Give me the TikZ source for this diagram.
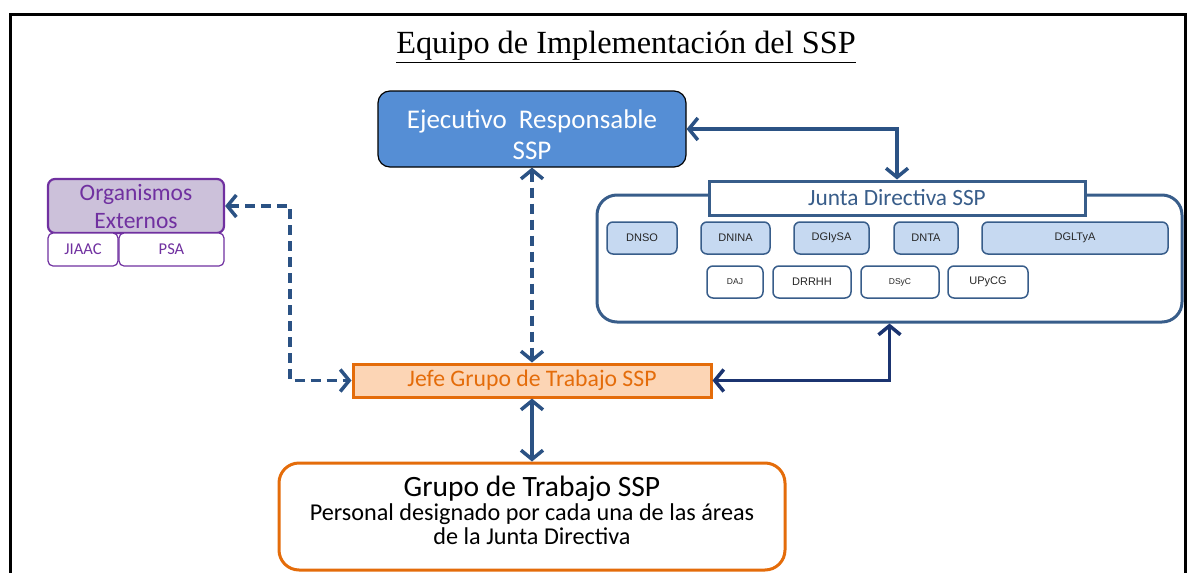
\documentclass[tikz,border=0pt]{standalone}
\usepackage{fontspec}
\setmainfont{Carlito}
\newfontfamily\titlefont{Liberation Serif}
\newfontfamily\areafont{Liberation Sans}
\usetikzlibrary{arrows.meta}
\definecolor{ejblue}{HTML}{558ED5}
\definecolor{orgpurple}{HTML}{7030A0}
\definecolor{orgfill}{HTML}{CCC1DA}
\definecolor{navy}{HTML}{2B5284}
\definecolor{darknavy}{HTML}{1B3470}
\definecolor{dirfill}{HTML}{C6D9F1}
\definecolor{dirline}{HTML}{385D8A}
\definecolor{jefeorange}{HTML}{E46C0A}
\definecolor{jefefill}{HTML}{FCD5B5}

\begin{document}
\begin{tikzpicture}[x=1pt,y=-1pt,
  ejbox/.style={draw=black, line width=1.2pt, fill=ejblue, rounded corners=12pt,
    text=white, align=center, minimum width=308pt, minimum height=76pt,
    font=\fontsize{27}{31}\selectfont},
  orgbox/.style={draw=orgpurple, line width=2.2pt, fill=orgfill, rounded corners=7pt,
    text=orgpurple, align=center, minimum width=176pt, minimum height=54pt,
    font=\fontsize{23.5}{28}\selectfont},
  orgsub/.style={draw=orgpurple, line width=1.2pt, fill=white, rounded corners=5pt,
    text=orgpurple, minimum height=33pt, font=\fontsize{16.5}{18}\selectfont},
  dirbox/.style={draw=dirline, line width=1.5pt, fill=dirfill, rounded corners=6pt,
    minimum height=32pt, text=black!85, font=\areafont\fontsize{11}{13}\selectfont},
  areabox/.style={draw=dirline, line width=1.5pt, fill=white, rounded corners=6pt,
    minimum height=32pt, text=black!85, font=\areafont\fontsize{11}{13}\selectfont},
  conn/.style={draw=navy, line width=3.5pt,
    arrows={Straight Barb[length=9pt,width=22pt]-Straight Barb[length=9pt,width=22pt]}},
  dashconn/.style={conn, dash pattern=on 10pt off 6pt}]

\useasboundingbox (0,0) rectangle (1192,573);

% Frame
\draw[line width=3pt] (10,573) |- (1185,14) -- (1185,573);

% Title
\node (title) at (626,47) {\titlefont\fontsize{32.3}{36}\selectfont\underline{Equipo de Implementación del SSP}};

% Ejecutivo Responsable
\node[ejbox] (ejec) at (532,129) {\rule{0pt}{30pt}Ejecutivo~ Responsable\\SSP};

% Organismos Externos
\node[orgbox] (org) at (136,206) {Organismos\\Externos};
\node[orgsub, minimum width=70pt] (jiaac) at (83,249.5) {JIAAC};
\node[orgsub, minimum width=105pt] (psa) at (171.5,249.5) {PSA};

% Junta Directiva
\node[draw=dirline, line width=3pt, rounded corners=20pt, minimum width=585pt,
  minimum height=127pt] (junta) at (889.5,258.5) {};
\node[draw=dirline, line width=3pt, fill=white, minimum width=376pt, minimum height=34pt,
  text=dirline, font=\fontsize{23.3}{26}\selectfont] (jtitle) at (897,198) {Junta Directiva SSP};

% First row of areas
\node[dirbox, minimum width=70pt] (dnso) at (642,238) {DNSO};
\node[dirbox, minimum width=69pt] (dnina) at (735.5,238) {DNINA};
\node[dirbox, minimum width=75pt] (dgiysa) at (831.5,238) {DGIySA};
\node[dirbox, minimum width=64pt] (dnta) at (926,238) {DNTA};
\node[dirbox, minimum width=186pt] (dgltya) at (1075,238) {DGLTyA};

% Second row of areas
\node[areabox, minimum width=56pt, font=\areafont\fontsize{8.5}{10}\selectfont] (daj) at (735,282) {DAJ};
\node[areabox, minimum width=78pt] (drrhh) at (812,282) {DRRHH};
\node[areabox, minimum width=78pt, font=\areafont\fontsize{8.5}{10}\selectfont] (dsyc) at (900,282) {DSyC};
\node[areabox, minimum width=80pt] (upycg) at (988,282) {UPyCG};

% Jefe Grupo de Trabajo
\node[draw=jefeorange, line width=3pt, fill=jefefill, text=jefeorange,
  minimum width=358pt, minimum height=33pt, font=\fontsize{23.7}{26}\selectfont]
  (jefe) at (532,380.5) {Jefe Grupo de Trabajo SSP};

% Grupo de Trabajo
\node[draw=jefeorange, line width=3pt, rounded corners=20pt, minimum width=506pt,
  minimum height=107pt] (grupo) at (532,516.5) {};
\node[anchor=north, yshift=-11pt, align=center, font=\fontsize{24.2}{24}\selectfont]
  (grupotxt) at (grupo.north) {{\fontsize{29.5}{24}\selectfont Grupo de Trabajo SSP}\\
  Personal designado por cada una de las áreas\\de la Junta Directiva};

% Connectors
\draw[dashconn] (ejec.south) -- (jefe.north);
\draw[dashconn] (org.east) -- ++(65,0) |- (jefe.west);
\draw[conn] (ejec.east) -| (jtitle.north);
\draw[conn, draw=darknavy] (jefe.east) -| (junta.south);
\draw[conn] (jefe.south) -- (grupo.north);

\end{tikzpicture}
\end{document}
